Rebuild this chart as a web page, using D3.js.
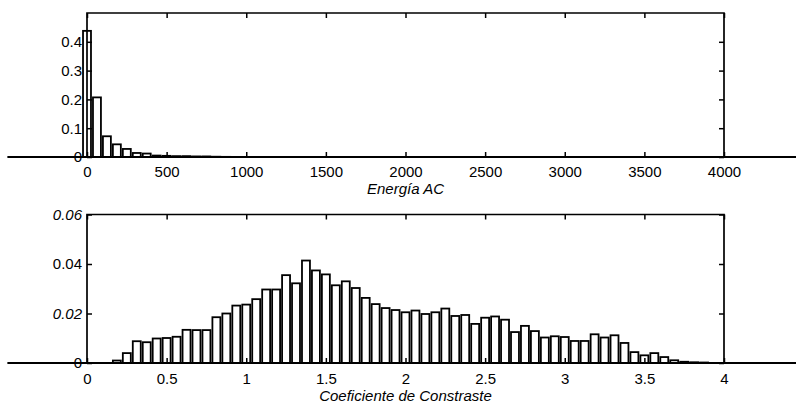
<!DOCTYPE html>
<html>
<head>
<meta charset="utf-8">
<script src="https://cdn.jsdelivr.net/npm/d3@7"></script>
<style>
  body { margin: 0; background: #fff; }
  text { font-family: "Liberation Sans", Arial, sans-serif; font-size: 15px; fill: #000; }
</style>
</head>
<body>
<div class="chart"></div>
<script>
// declare global values
const WIDTH = 796;
const HEIGHT = 404;
const LEFT = 87;
const RIGHT = 724;

// top histogram: Energia AC
const energyBins = [0, 62.5, 125, 187.5, 250, 312.5, 375, 437.5, 500, 562.5, 625, 687.5, 750, 812.5, 875];
const energyFreq = [0.438, 0.207, 0.072, 0.044, 0.028, 0.014, 0.012, 0.005, 0.004, 0.003, 0.003, 0.002, 0.002, 0.001, 0.0005];
const energyXTicks = [0, 500, 1000, 1500, 2000, 2500, 3000, 3500, 4000];
const energyYTicks = [0, 0.1, 0.2, 0.3, 0.4];

// bottom histogram: Coeficiente de Constraste
const contrastBins = [
  0.1875, 0.25, 0.3125, 0.375, 0.4375, 0.5, 0.5625, 0.625, 0.6875, 0.75,
  0.8125, 0.875, 0.9375, 1.0, 1.0625, 1.125, 1.1875, 1.25, 1.3125, 1.375,
  1.4375, 1.5, 1.5625, 1.625, 1.6875, 1.75, 1.8125, 1.875, 1.9375, 2.0,
  2.0625, 2.125, 2.1875, 2.25, 2.3125, 2.375, 2.4375, 2.5, 2.5625, 2.625,
  2.6875, 2.75, 2.8125, 2.875, 2.9375, 3.0, 3.0625, 3.125, 3.1875, 3.25,
  3.3125, 3.375, 3.4375, 3.5, 3.5625, 3.625, 3.6875, 3.75, 3.8125, 3.875
];
const contrastFreq = [
  0.001, 0.004, 0.0088, 0.0084, 0.0099, 0.0101, 0.0106, 0.0134, 0.0133, 0.0133,
  0.0185, 0.02, 0.0232, 0.0236, 0.0258, 0.0297, 0.0297, 0.0355, 0.0322, 0.0414,
  0.0374, 0.0358, 0.0314, 0.033, 0.0303, 0.0263, 0.0238, 0.0222, 0.0214, 0.0205,
  0.0212, 0.0198, 0.0205, 0.022, 0.019, 0.0194, 0.0158, 0.0183, 0.0188, 0.0175,
  0.0125, 0.015, 0.0129, 0.0103, 0.0108, 0.0105, 0.0089, 0.0089, 0.0116, 0.0103,
  0.0112, 0.0081, 0.0044, 0.0031, 0.004, 0.0024, 0.0011, 0.0005, 0.0003, 0.0002
];
const contrastXTicks = [0, 0.5, 1, 1.5, 2, 2.5, 3, 3.5, 4];
const contrastYTicks = [0, 0.02, 0.04, 0.06];
const contrastYLabels = ["0", "0.02", "0.04", "0.06"];

var svg = d3
  .select(".chart")
  .append("svg")
  .attr("width", WIDTH)
  .attr("height", HEIGHT);

const DRAWPANEL = (p) => {
  var x = d3.scaleLinear().domain(p.xlim).range([LEFT, RIGHT]);
  var y = d3.scaleLinear().domain(p.ylim).range([p.bottom, p.top]);
  var g = svg.append("g");

  // bars, white with black outline
  g.selectAll("rect")
    .data(p.bins)
    .enter()
    .append("rect")
    .attr("x", (d) => x(d - p.barWidth / 2))
    .attr("width", (d) => x(d + p.barWidth / 2) - x(d - p.barWidth / 2))
    .attr("y", (d, i) => y(p.freq[i]))
    .attr("height", (d, i) => y(0) - y(p.freq[i]))
    .attr("fill", "#fff")
    .attr("stroke", "#000")
    .attr("stroke-width", 1.8);

  // box (top, left, right) and the zero line across the whole span
  g.append("path")
    .attr("d", `M${x(p.xlim[0])},${y(0)}V${y(p.ylim[1])}H${x(p.xlim[1])}V${y(0)}`)
    .attr("fill", "none")
    .attr("stroke", "#000")
    .attr("stroke-width", 1.7);
  g.append("line")
    .attr("x1", x(p.base[0]))
    .attr("x2", x(p.base[1]))
    .attr("y1", y(0))
    .attr("y2", y(0))
    .attr("stroke", "#000")
    .attr("stroke-width", 1.8);

  // ticks point inwards on all four sides
  g.append("g")
    .attr("transform", `translate(0,${y(0)})`)
    .call(d3.axisBottom(x).tickValues(p.xticks).tickSize(-5).tickPadding(p.pad).tickFormat(d3.format("")))
    .call((a) => a.select(".domain").remove());
  g.append("g")
    .attr("transform", `translate(0,${y(p.ylim[1])})`)
    .call(d3.axisTop(x).tickValues(p.xticks).tickSize(-5).tickFormat(""))
    .call((a) => a.select(".domain").remove());
  g.append("g")
    .attr("transform", `translate(${LEFT},0)`)
    .call(d3.axisLeft(y).tickValues(p.yticks).tickSize(-5).tickPadding(5).tickFormat((d, i) => p.ylabels[i]))
    .call((a) => a.select(".domain").remove())
    .call((a) => a.selectAll(".tick text").style("font-style", (d) => (p.italic.indexOf(d) >= 0 ? "italic" : "normal")));
  g.append("g")
    .attr("transform", `translate(${RIGHT},0)`)
    .call(d3.axisRight(y).tickValues(p.yticks).tickSize(-5).tickFormat(""))
    .call((a) => a.select(".domain").remove());

  g.selectAll(".tick line").attr("stroke", "#000").attr("stroke-width", 1.5);
  g.selectAll(".tick text").attr("fill", "#000").style("font-size", "15px").style("font-family", '"Liberation Sans", Arial, sans-serif');

  // axis title
  g.append("text")
    .attr("x", (LEFT + RIGHT) / 2)
    .attr("y", p.titleY)
    .attr("text-anchor", "middle")
    .style("font-style", "italic")
    .style("font-size", "15px")
    .text(p.title);
};

DRAWPANEL({
  bins: energyBins,
  freq: energyFreq,
  barWidth: 50,
  xlim: [0, 4000],
  base: [-500, 4500],
  ylim: [0, 0.5],
  xticks: energyXTicks,
  yticks: energyYTicks,
  ylabels: energyYTicks.map((d) => d3.format("")(d)),
  italic: [],
  top: 13,
  bottom: 157,
  pad: 9,
  title: "Energía AC",
  titleY: 194,
});

DRAWPANEL({
  bins: contrastBins,
  freq: contrastFreq,
  barWidth: 0.05,
  xlim: [0, 4],
  base: [-0.5, 4.5],
  ylim: [0, 0.06],
  xticks: contrastXTicks,
  yticks: contrastYTicks,
  ylabels: contrastYLabels,
  italic: [0.02, 0.06],
  top: 214.5,
  bottom: 363,
  pad: 10,
  title: "Coeficiente de Constraste",
  titleY: 401,
});
</script>
</body>
</html>
